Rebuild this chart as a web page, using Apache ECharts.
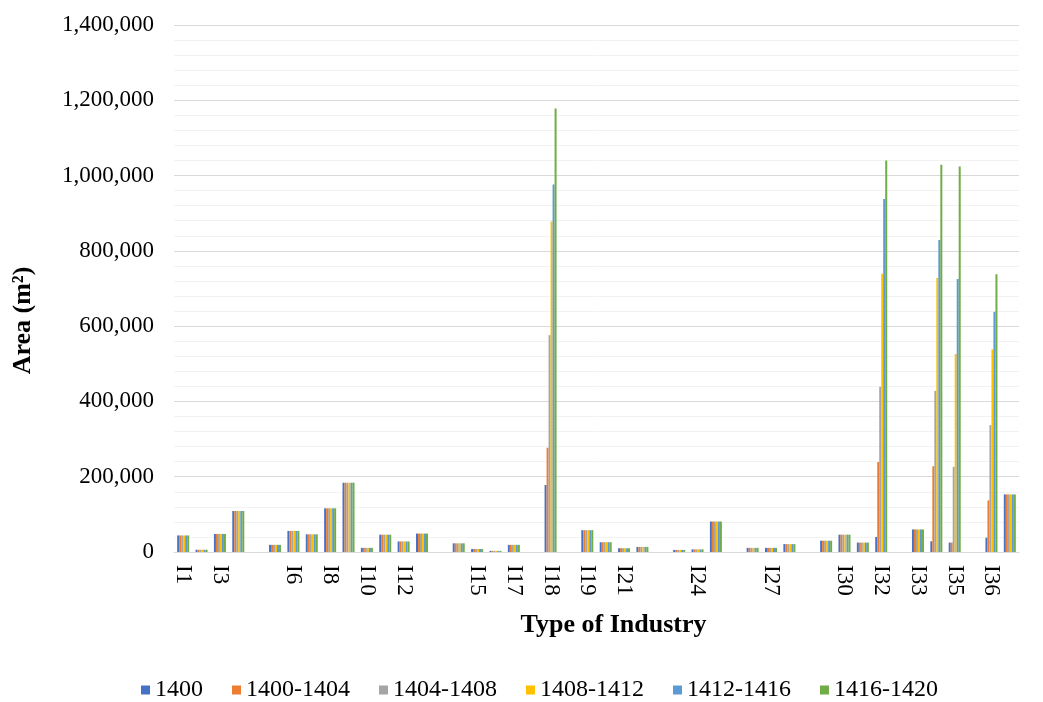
<!DOCTYPE html>
<html>
<head>
<meta charset="utf-8">
<script src="https://cdn.jsdelivr.net/npm/echarts@6/dist/echarts.min.js"></script>
<style>
html,body{margin:0;padding:0;background:#fff;}
#chart{width:1043px;height:702px;}
</style>
</head>
<body>
<div id="chart"></div>
<script>
// Categories (blank entries are empty separator slots in the original chart)
const categories = ['I1','I2','I3','I4','','I5','I6','I7','I8','I9','I10','I11','I12','I13','','I14','I15','I16','I17','','I18','','I19','I20','I21','I22','','I23','I24','I25','','I26','I27','I28','','I29','I30','I31','I32','','I33','I34','I35','','I36','I37'];

const seriesNames = ['1400','1400-1404','1404-1408','1408-1412','1412-1416','1416-1420'];

const s1400 = [44000,6000,48000,109000,null,19000,56000,47000,116000,184000,11000,46000,28000,49000,null,23000,8000,3000,19000,null,178000,null,58000,26000,10000,13500,null,5500,7000,81000,null,11000,11000,21000,null,30000,46000,25000,40000,null,60000,28500,25000,null,38000,153000];
const s1400_1404 = [44000,6000,48000,109000,null,19000,56000,47000,116000,184000,11000,46000,28000,49000,null,23000,8000,3000,19000,null,277000,null,58000,26000,10000,13500,null,5500,7000,81000,null,11000,11000,21000,null,30000,46000,25000,239000,null,60000,228000,25000,null,137000,153000];
const s1404_1408 = [44000,6000,48000,109000,null,19000,56000,47000,116000,184000,11000,46000,28000,49000,null,23000,8000,3000,19000,null,576000,null,58000,26000,10000,13500,null,5500,7000,81000,null,11000,11000,21000,null,30000,46000,25000,439000,null,60000,428000,226000,null,337000,153000];
const s1408_1412 = [44000,6000,48000,109000,null,19000,56000,47000,116000,184000,11000,46000,28000,49000,null,23000,8000,3000,19000,null,878000,null,58000,26000,10000,13500,null,5500,7000,81000,null,11000,11000,21000,null,30000,46000,25000,739000,null,60000,728000,526000,null,538000,153000];
const s1412_1416 = [44000,6000,48000,109000,null,19000,56000,47000,116000,184000,11000,46000,28000,49000,null,23000,8000,3000,19000,null,976000,null,58000,26000,10000,13500,null,5500,7000,81000,null,11000,11000,21000,null,30000,46000,25000,938000,null,60000,829000,725000,null,638000,153000];
const s1416_1420 = [44000,6000,48000,109000,null,19000,56000,47000,116000,184000,11000,46000,28000,49000,null,23000,8000,3000,19000,null,1178000,null,58000,26000,10000,13500,null,5500,7000,81000,null,11000,11000,21000,null,30000,46000,25000,1040000,null,60000,1029000,1024000,null,738000,153000];

const seriesValues = [s1400, s1400_1404, s1404_1408, s1408_1412, s1412_1416, s1416_1420];
const colors = ['#4472C4','#ED7D31','#A5A5A5','#FFC000','#5B9BD5','#70AD47'];

const FONT = "'Liberation Serif', 'Times New Roman', serif";

const chart = echarts.init(document.getElementById('chart'), null, {renderer:'canvas'});
chart.setOption({
  animation: false,
  backgroundColor: '#ffffff',
  color: colors,
  textStyle: {fontFamily: FONT},
  grid: {left: 174, right: 24, top: 25, bottom: 150, containLabel: false},
  legend: {
    left: 136, bottom: -5,
    itemWidth: 9, itemHeight: 9, itemGap: 29,
    icon: 'rect',
    textStyle: {fontFamily: FONT, fontSize: 24, color: '#000'},
    data: seriesNames
  },
  xAxis: {
    type: 'category',
    data: categories,
    name: 'Type of Industry',
    nameLocation: 'middle',
    nameGap: 60,
    nameTextStyle: {fontFamily: FONT, fontSize: 26, fontWeight: 'bold', color: '#000', padding: [0,0,0,34]},
    axisLine: {show: true, lineStyle: {color: '#d9d9d9', width: 1}},
    axisTick: {show: false},
    axisLabel: {interval: 1, rotate: -90, margin: 13, fontFamily: FONT, fontSize: 23, color: '#000'},
    splitLine: {show: false}
  },
  yAxis: {
    type: 'value',
    min: 0, max: 1400000, interval: 200000,
    name: 'Area (m²)',
    nameLocation: 'middle',
    nameRotate: 90,
    nameGap: 138,
    nameTextStyle: {fontFamily: FONT, fontSize: 26, fontWeight: 'bold', color: '#000', padding: [0,64,0,0]},
    axisLine: {show: false},
    axisTick: {show: false},
    axisLabel: {margin: 20, fontFamily: FONT, fontSize: 23, color: '#000',
      formatter: v => v.toLocaleString('en-US')},
    splitLine: {show: true, lineStyle: {color: '#d9d9d9', width: 1}},
    minorTick: {show: false, splitNumber: 5},
    minorSplitLine: {show: true, lineStyle: {color: '#f2f2f2', width: 1}}
  },
  series: seriesNames.map((n, i) => ({
    name: n,
    type: 'bar',
    data: seriesValues[i],
    barWidth: 2,
    barGap: '0%',
    itemStyle: {color: colors[i]}
  }))
});
</script>
</body>
</html>
